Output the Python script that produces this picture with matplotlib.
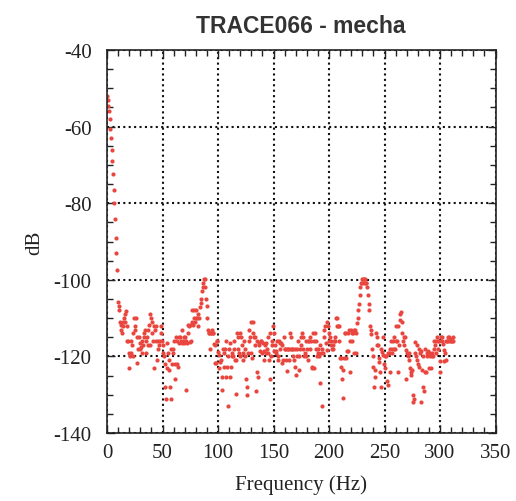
import numpy as np
import matplotlib
matplotlib.use("Agg")
import matplotlib.pyplot as plt
from matplotlib.ticker import MultipleLocator

plt.rcParams['axes.unicode_minus'] = False

# spectre TRACE066 : 512 raies, pas ~0.61 Hz (lecture sur la figure)
df = 0.6104
db_values = [
    -52, -53, -54.5, -56, -58, -60.5, -63, -66, -69, -72.5, -76.5, -80, -84, -89, -93, -97.5,
    -105.8, -106.9, -108, -111, -111.9, -113, -114, -111, -112, -110.1, -111, -109, -108.1, -112, -116, -116,
    -119.2, -123, -120, -119.2, -116, -117, -120, -114, -110, -112, -113, -110, -121.8, -115, -118, -115,
    -116.6, -118, -117.5, -119, -116, -117, -115, -114, -113, -119, -116, -115, -117, -113, -111.9, -117,
    -109, -110, -111, -114, -116, -123, -112, -113, -112, -116, -121, -116, -118, -117, -116, -112,
    -114, -116, -119, -117, -120, -122, -127.9, -131, -116.6, -123, -119, -123.5, -121, -127.9, -131, -118,
    -122, -118, -119, -116, -126, -122, -115, -122, -116, -122.7, -115, -116.6, -114.9, -116, -113, -116.6,
    -116, -116.6, -115, -114.9, -128.7, -116, -116.6, -114, -111.9, -112, -111.9, -116.2, -116, -111, -108, -111.7,
    -110, -108, -111, -110, -108, -110, -112, -108.8, -110, -107, -106, -104.9, -102.8, -102, -100.9, -99.9,
    -99.9, -102, -104.9, -106.9, -110, -113, -114, -114, -118, -114, -114, -113, -114, -114, -116.8, -121.8,
    -117, -121.8, -116, -116, -118.8, -123, -119.7, -121.4, -121, -125.3, -128.7, -118, -119, -122.7, -118, -125.3,
    -116, -122.7, -132.9, -120, -118, -116.6, -125.3, -122.7, -120, -119, -120, -118, -116, -121, -129.8, -121,
    -114, -118, -115, -119, -114, -120, -115, -117, -119, -121, -116, -118, -120, -126, -128, -130,
    -119, -116, -113, -115, -119, -111, -120.5, -111, -114, -115, -115, -117, -129, -116, -124, -125.3,
    -117, -116.5, -118.5, -116, -116, -119, -116.5, -118.5, -121, -117, -119, -116.5, -118, -115, -119, -121,
    -114, -126, -120, -117, -116, -112, -114, -118.5, -117, -118.5, -119, -116, -120, -121, -116, -116.5,
    -118, -116.5, -121.8, -117, -121, -115, -118, -118, -121, -118, -123.7, -118, -121, -118, -114, -118,
    -115, -118, -120, -118, -121, -122.7, -118, -124.8, -120, -118, -116, -120, -123.5, -118, -115, -117,
    -114, -118, -115, -120, -119, -120, -116, -118, -116, -121, -116, -118, -115, -116, -123, -122.7,
    -114, -123, -116, -114, -118, -116, -120, -118, -119, -120, -117, -127, -119, -133, -118, -119,
    -113, -115, -112, -116.6, -111, -118.3, -112, -114, -116, -115, -117, -116, -118, -117, -118, -116,
    -116, -115, -110, -112, -110, -112, -116, -112, -120.3, -122.7, -120.3, -126, -123.5, -130.9, -120.3, -114,
    -114, -120.3, -118.5, -114, -118.5, -113, -124, -116, -113, -114, -116, -114, -113, -119.2, -113, -114,
    -119.2, -111.4, -110, -108, -106.2, -104, -102, -100.9, -100.9, -99.9, -99.9, -100.9, -99.9, -99.9, -100.9, -100.9,
    -102, -104, -106.2, -108, -112, -113.2, -114.2, -118, -120, -122.7, -127.9, -125.5, -123.5, -114, -117, -115,
    -117, -120.3, -121.4, -124.1, -118, -127.9, -118.9, -115, -119.7, -122, -120, -123, -120, -126.3, -127.5, -119.2,
    -119.2, -124, -118, -116, -119, -118, -116, -118, -115, -118, -116, -112, -116, -124, -112, -117,
    -110.5, -109, -108.4, -111, -114, -116, -115, -117, -115, -118.4, -126, -119.2, -120, -121, -119, -123,
    -124, -124.8, -123.5, -130, -132, -131, -119, -116.2, -120, -121, -117, -122, -118, -122.7, -119, -118.5,
    -132, -123.5, -128, -119.8, -129, -124, -118, -124, -119.2, -120, -118.5, -123, -119, -120, -123, -120,
    -119, -120, -118, -116, -117, -116, -119, -115, -116, -118, -116, -124, -121.2, -115, -116, -115,
    -116.8, -121.2, -118.4, -119.2, -116, -121, -116, -115, -116, -115, -116, -116, -115.5, -116, -115, -116,
]
freq = np.arange(len(db_values)) * df

x_ticks = [0, 50, 100, 150, 200, 250, 300, 350]
y_ticks = [-140, -120, -100, -80, -60, -40]

fig = plt.figure(figsize=(5.16, 5.02), dpi=100)
ax = fig.add_axes([107 / 516, 1 - 434 / 502, (495.5 - 107) / 516, (434 - 51) / 502])

ax.plot(freq, db_values, 'o', color='#e8463e', markersize=3.0, markeredgewidth=0)

ax.set_xlim(0, 350)
ax.set_ylim(-140, -40)
ax.set_xticks(x_ticks)
ax.set_yticks(y_ticks)
ax.xaxis.set_minor_locator(MultipleLocator(10))
ax.yaxis.set_minor_locator(MultipleLocator(5))
ax.tick_params(which='both', direction='in', top=True, right=True, width=1.0, color='#222222')
ax.tick_params(which='major', length=6)
ax.tick_params(which='minor', length=4)
ax.tick_params(axis='x', which='major', pad=7)
ax.tick_params(axis='y', which='major', pad=11)
for lab in ax.get_xticklabels() + ax.get_yticklabels():
    lab.set_fontfamily('Liberation Serif')
    lab.set_fontsize(15)
    lab.set_color('#222222')

ax.grid(True, which='major', color='#111111', linestyle=(0, (1, 1.6)), linewidth=1.5)
for s in ax.spines.values():
    s.set_linewidth(1.2)
    s.set_color('#222222')

ax.set_xlabel('Frequency (Hz)', fontfamily='Liberation Serif', fontsize=15, color='#222222', labelpad=9)
ax.set_ylabel('dB', fontfamily='Liberation Serif', fontsize=15, color='#222222', labelpad=7)
ax.set_title('TRACE066 - mecha', fontfamily='Liberation Sans', fontweight='bold', fontsize=16.5,
             color='#333333', pad=13)

plt.savefig('out.png', dpi=100)
